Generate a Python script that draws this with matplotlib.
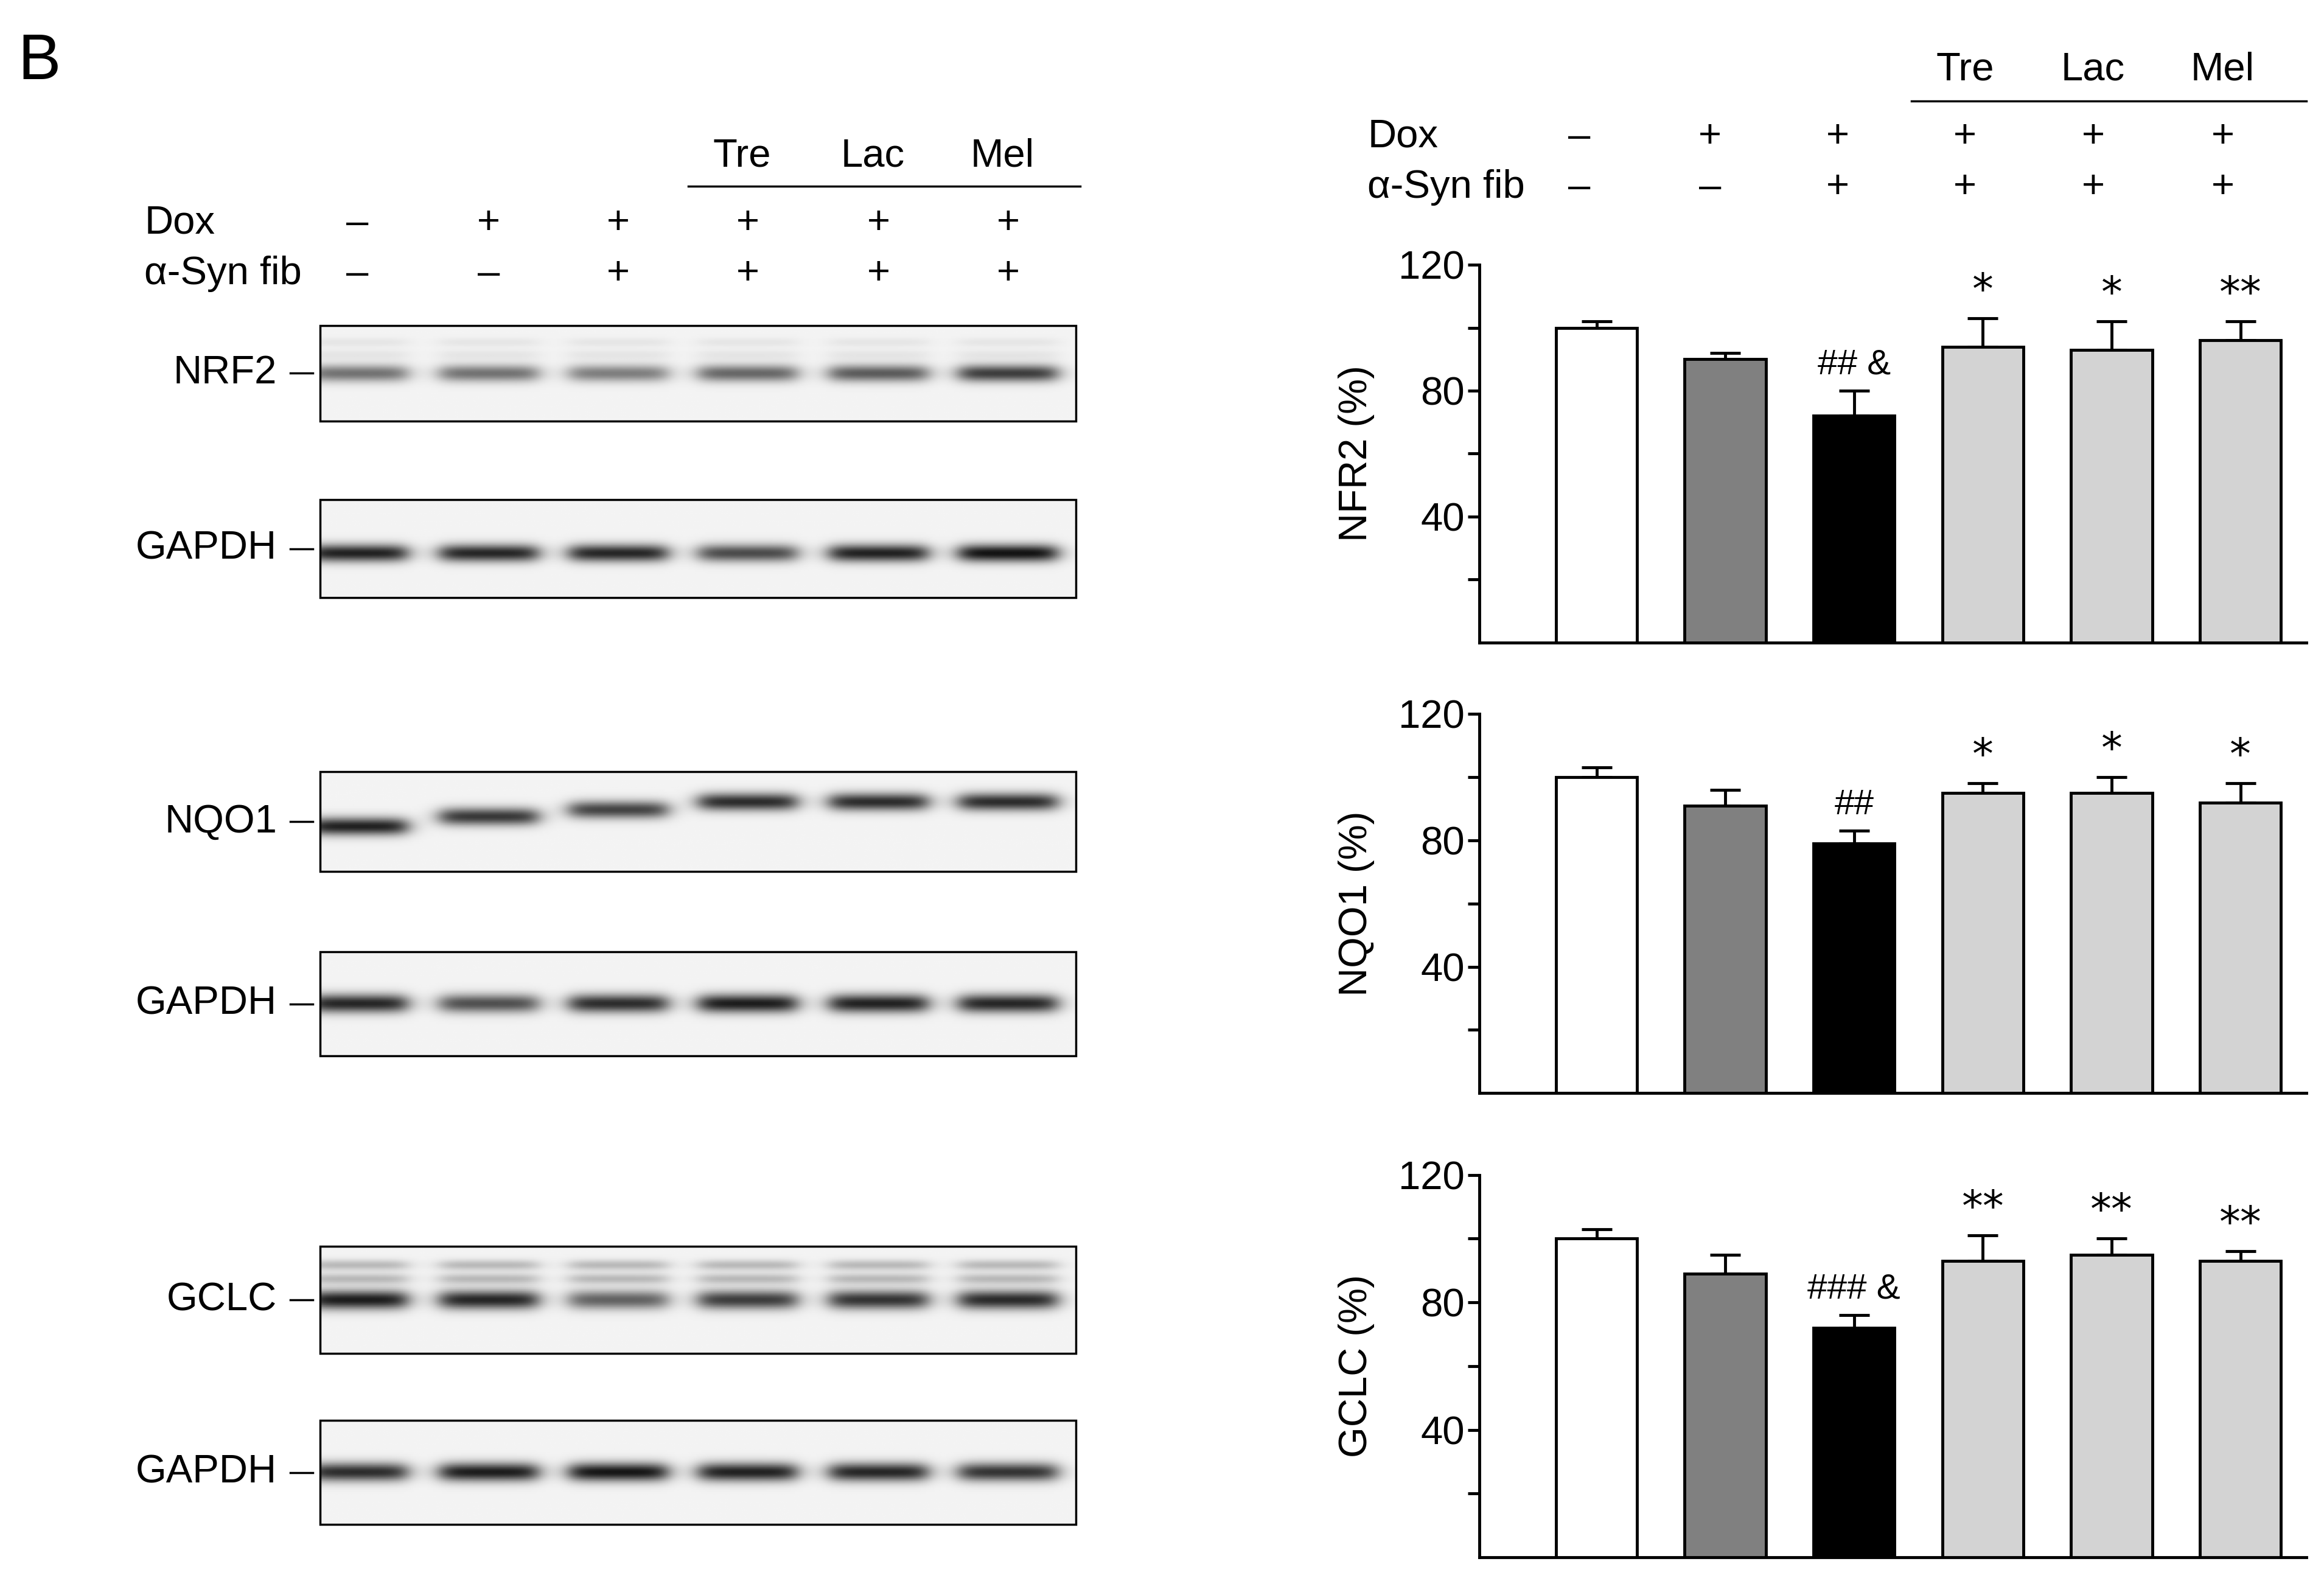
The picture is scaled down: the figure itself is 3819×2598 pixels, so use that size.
import numpy as np
import matplotlib
matplotlib.use("Agg")
import matplotlib.pyplot as plt

plt.rcParams['font.family'] = ['Liberation Sans', 'DejaVu Sans']

groups = ["Ctrl", "Dox", "Dox+fib", "Tre", "Lac", "Mel"]
dox_signs = ["–", "+", "+", "+", "+", "+"]
fib_signs = ["–", "–", "+", "+", "+", "+"]
treat_labels = ["Tre", "Lac", "Mel"]

nrf2_mean = [100, 90, 72, 94, 93, 96]
nrf2_err = [2, 2, 8, 9, 9, 6]
nrf2_sig = ["", "", "## &", "*", "*", "**"]
nqo1_mean = [100, 91, 79, 95, 95, 92]
nqo1_err = [3, 5, 4, 3, 5, 6]
nqo1_sig = ["", "", "##", "*", "*", "*"]
gclc_mean = [100, 89, 72, 93, 95, 93]
gclc_err = [3, 6, 4, 8, 5, 3]
gclc_sig = ["", "", "### &", "**", "**", "**"]
bar_colors = ["white", "#808080", "black", "#d3d3d3", "#d3d3d3", "#d3d3d3"]

# blot band intensities (0..1) per lane
blot_names = ["NRF2", "GAPDH", "NQO1", "GAPDH", "GCLC", "GAPDH"]
blot_int = [[0.55, 0.55, 0.5, 0.6, 0.65, 0.78],
            [0.9, 0.88, 0.88, 0.72, 0.9, 0.97],
            [0.9, 0.8, 0.75, 0.85, 0.85, 0.85],
            [0.88, 0.7, 0.85, 0.92, 0.9, 0.88],
            [0.92, 0.88, 0.62, 0.78, 0.82, 0.86],
            [0.85, 0.92, 0.95, 0.9, 0.88, 0.82]]
blot_pos = [[0.5] * 6, [0.55] * 6,
            [0.55, 0.45, 0.38, 0.3, 0.3, 0.3],
            [0.5] * 6, [0.5] * 6, [0.5] * 6]
blot_faint = [0.06, 0, 0, 0, 0.25, 0]

W, H = 1560, 1063
fig = plt.figure(figsize=(38.19, 25.98), dpi=100)
ov = fig.add_axes([0, 0, 1, 1])
ov.set_xlim(0, W); ov.set_ylim(H, 0); ov.axis('off')
fs = 47

ov.text(12, 42, "B", fontsize=76, va='center')

# ---- blots ----
lanes_x = [240, 328, 415, 502, 590, 677]
boxes = [(219, 283), (336, 402), (519, 586), (640, 710), (838, 910), (955, 1025)]
bx0, bx1 = 215, 722
for k, (y0, y1) in enumerate(boxes):
    nx, ny = 400, 60
    xs = np.linspace(bx0, bx1, nx)
    ys = np.linspace(0, 1, ny)
    img = np.full((ny, nx), 0.05)
    for i, lx in enumerate(lanes_x):
        prof_x = 1 / (1 + np.exp((np.abs(xs - lx) - 33) / 4))
        prof_y = np.exp(-((ys - blot_pos[k][i]) / 0.09) ** 2)
        img += blot_int[k][i] * np.outer(prof_y, prof_x)
        if blot_faint[k] > 0:
            for off in (0.2, 0.33):
                py = np.exp(-((ys - (blot_pos[k][i] - off)) / 0.05) ** 2)
                img += blot_faint[k] * np.outer(py, prof_x)
    img = np.clip(img, 0, 1)
    ov.imshow(1 - 0.92 * img, cmap='gray', vmin=0, vmax=1, aspect='auto',
              extent=(bx0, bx1, y1, y0), zorder=1)
    ov.add_patch(plt.Rectangle((bx0, y0), bx1 - bx0, y1 - y0, fill=False,
                               lw=2.5, ec='black', zorder=2))
    yc = (y0 + y1) / 2
    ov.text(186, yc, blot_names[k], fontsize=fs, ha='right', va='center')
    ov.plot([195, 210], [yc, yc], color='black', lw=2.5)

ov.text(97, 150, "Dox", fontsize=fs, ha='left', va='center')
ov.text(97, 184, "α-Syn fib", fontsize=fs, ha='left', va='center')
for i, lx in enumerate(lanes_x):
    ov.text(lx, 150, dox_signs[i], fontsize=fs, ha='center', va='center')
    ov.text(lx, 184, fib_signs[i], fontsize=fs, ha='center', va='center')
for j, t in enumerate(treat_labels):
    ov.text(lanes_x[3 + j] - 4, 105, t, fontsize=fs, ha='center', va='center')
ov.plot([462, 725], [125, 125], color='black', lw=2.5)

# ---- bar charts ----
bar_x = [1073.5, 1160, 1245.5, 1331, 1417, 1504]
ax_l, ax_r = 993, 1548
panels = [(178, 432, nrf2_mean, nrf2_err, nrf2_sig, "NFR2 (%)"),
          (480, 735, nqo1_mean, nqo1_err, nqo1_sig, "NQO1 (%)"),
          (790, 1047, gclc_mean, gclc_err, gclc_sig, "GCLC (%)")]
xpos = np.arange(6)
for (t, b, m, e, s, lab) in panels:
    ax = fig.add_axes([ax_l / W, 1 - b / H, (ax_r - ax_l) / W, (b - t) / H])
    ax.bar(xpos, m, width=0.63, color=bar_colors, edgecolor='black', lw=3.5, zorder=3)
    ax.errorbar(xpos, m, yerr=[np.zeros(6), e], fmt='none', ecolor='black',
                elinewidth=3.5, capsize=18, capthick=3.5, zorder=2)
    for i in range(6):
        if s[i]:
            is_hash = '#' in s[i]
            ax.text(xpos[i], m[i] + e[i] + (3 if is_hash else 2), s[i],
                    ha='center', va='bottom',
                    fontsize=42 if is_hash else 50,
                    family=['DejaVu Sans'] if not is_hash else ['Liberation Sans'])
    ax.set_xlim(-0.91, 5.51)
    ax.set_ylim(0, 120)
    ax.set_yticks([40, 80, 120])
    ax.set_yticks([20, 60, 100], minor=True)
    ax.tick_params(axis='y', labelsize=fs, width=3.5, length=14, which='major')
    ax.tick_params(axis='y', width=3.5, length=14, which='minor')
    ax.set_xticks([])
    for sname in ['top', 'right']:
        ax.spines[sname].set_visible(False)
    for sname in ['left', 'bottom']:
        ax.spines[sname].set_linewidth(3.5)
    ax.set_ylabel(lab, fontsize=fs, labelpad=28)
    ax.patch.set_alpha(0)

ov.text(918, 92, "Dox", fontsize=fs, ha='left', va='center')
ov.text(918, 126, "α-Syn fib", fontsize=fs, ha='left', va='center')
for i, bxp in enumerate(bar_x):
    xx = 1060 if i == 0 else bxp - 12
    ov.text(xx, 92, dox_signs[i], fontsize=fs, ha='center', va='center')
    ov.text(xx, 126, fib_signs[i], fontsize=fs, ha='center', va='center')
for j, t in enumerate(treat_labels):
    ov.text(bar_x[3 + j] - 12, 47, t, fontsize=fs, ha='center', va='center')
ov.plot([1283, 1548], [68, 68], color='black', lw=2.5)

fig.savefig("out.png", dpi=100)
